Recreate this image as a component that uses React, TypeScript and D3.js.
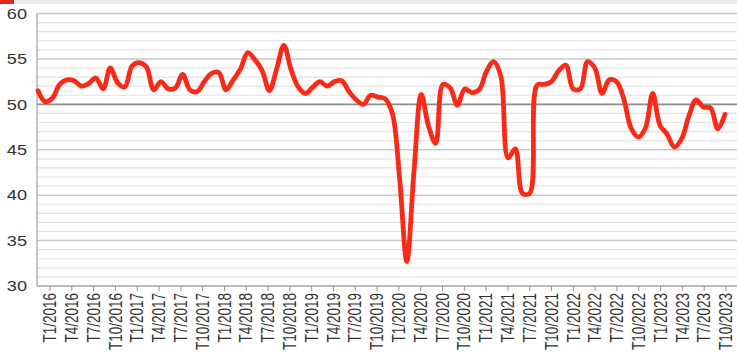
import React from "react";
import * as d3 from "d3";

const pmi2016 = [51.5, 50.3, 50.7, 52.2, 52.7, 52.6, 52.0, 52.3, 52.9, 51.7, 54.0, 52.4];
const pmi2017 = [51.9, 54.2, 54.6, 54.1, 51.6, 52.5, 51.7, 51.8, 53.3, 51.6, 51.4, 52.5];
const pmi2018 = [53.4, 53.5, 51.6, 52.7, 53.9, 55.7, 54.9, 53.7, 51.5, 53.9, 56.5, 53.8];
const pmi2019 = [51.9, 51.2, 51.9, 52.5, 52.0, 52.5, 52.6, 51.4, 50.5, 50.0, 51.0, 50.8];
const pmi2020 = [50.6, 49.0, 41.9, 32.7, 42.7, 51.1, 47.6, 45.7, 52.2, 51.8, 49.9, 51.7];
const pmi2021 = [51.3, 51.6, 53.6, 54.7, 53.1, 44.1, 45.1, 40.2, 40.2, 52.1, 52.2, 52.5];
const pmi2022 = [53.7, 54.3, 51.7, 51.7, 54.7, 54.0, 51.2, 52.7, 52.5, 50.6, 47.4, 46.4];
const pmi2023 = [47.4, 51.2, 47.7, 46.7, 45.3, 46.2, 48.7, 50.5, 49.7, 49.6, 47.3, 48.9];

const values = [...pmi2016, ...pmi2017, ...pmi2018, ...pmi2019, ...pmi2020, ...pmi2021, ...pmi2022, ...pmi2023];

const years = [2016, 2017, 2018, 2019, 2020, 2021, 2022, 2023];
const quarterMonths = [1, 4, 7, 10];
const tickLabels = years.flatMap((y) => quarterMonths.map((m) => `T${m}/${y}`));
const yTicks = [30, 35, 40, 45, 50, 55, 60];
const yMinor = d3.range(30, 61, 1);

const W = 737;
const H = 363;
const plotLeft = 37;
const plotRight = 737;
const yTop = 13.5;
const yBottom = 286;
const SX = 1.3;

export default function App() {
  const x = d3.scaleLinear().domain([0, values.length - 1]).range([38, 725]);
  const y = d3.scaleLinear().domain([30, 60]).range([yBottom, yTop]);
  const xl = d3.scalePoint<string>().domain(tickLabels).range([50, 726]);

  const line = d3
    .line<number>()
    .x((_, i) => x(i))
    .y((d) => y(d))
    .curve(d3.curveCatmullRom.alpha(0.5));

  return (
    <svg
      width={W}
      height={H}
      style={{ position: "fixed", left: 0, top: 0, background: "#fff" }}
      fontFamily="'Liberation Sans', Arial, sans-serif"
    >
      <rect x={0} y={0} width={W} height={H} fill="#fff" />
      <rect x={0} y={0} width={W} height={4} fill="#ebebeb" />
      <rect x={0} y={0} width={14} height={4} fill="#e8251b" />

      {/* minor grid */}
      {yMinor
        .filter((v) => v % 5 !== 0)
        .map((v) => (
          <line key={"m" + v} x1={plotLeft} x2={plotRight} y1={y(v)} y2={y(v)} stroke="#e2e2e2" strokeWidth={1.2} />
        ))}
      {/* major grid */}
      {yTicks.map((v) => (
        <line
          key={"M" + v}
          x1={plotLeft}
          x2={plotRight}
          y1={y(v)}
          y2={y(v)}
          stroke={v === 50 ? "#8c8c8c" : "#c9c9c9"}
          strokeWidth={v === 50 ? 1.6 : 1.5}
        />
      ))}
      {/* axes */}
      <line x1={plotLeft} x2={plotLeft} y1={yTop} y2={yBottom} stroke="#a0a0a0" strokeWidth={1.2} />
      <line x1={plotLeft} x2={plotRight} y1={yBottom} y2={yBottom} stroke="#a0a0a0" strokeWidth={1.2} />

      {/* y labels */}
      {yTicks.map((v) => (
        <text
          key={"yl" + v}
          transform={`translate(27,${y(v)}) scale(${SX},1)`}
          textAnchor="end"
          dominantBaseline="central"
          fontSize={14}
          fill="#333"
        >
          {v}
        </text>
      ))}

      {/* x ticks and labels */}
      {tickLabels.map((t) => {
        const px = xl(t) as number;
        return (
          <g key={t}>
            <line x1={px} x2={px} y1={yBottom} y2={yBottom + 5} stroke="#909090" strokeWidth={1} />
            <text
              transform={`translate(${px},${yBottom + 7}) scale(${SX},1) rotate(-90)`}
              textAnchor="end"
              dominantBaseline="central"
              fontSize={13.5}
              fill="#333"
            >
              {t}
            </text>
          </g>
        );
      })}

      <path d={line(values) ?? ""} fill="none" stroke="#fa2a18" strokeWidth={4.8} strokeLinejoin="round" strokeLinecap="round" />
    </svg>
  );
}
